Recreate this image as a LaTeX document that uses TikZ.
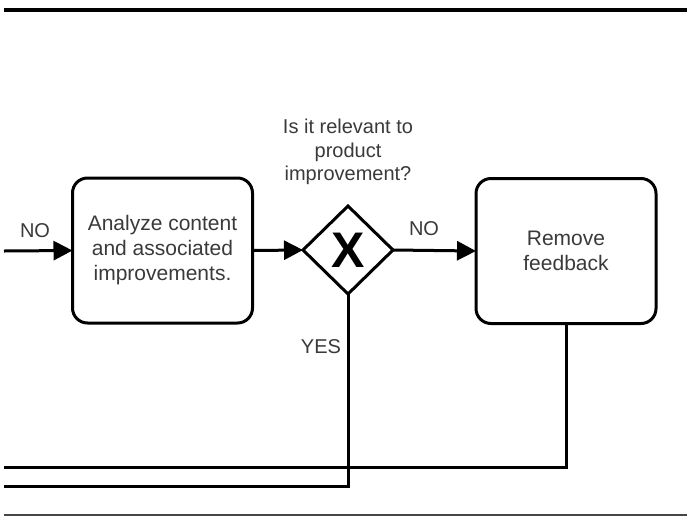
\documentclass[tikz,border=0pt]{standalone}
\usepackage{fontspec}
\setmainfont{Liberation Sans}
\usetikzlibrary{arrows.meta,shapes.geometric}
\definecolor{txt}{RGB}{58,58,58}
\definecolor{rule}{RGB}{70,70,70}
\begin{document}
\begin{tikzpicture}[x=1pt,y=-1pt,
  flow/.style={line width=3pt,black},
  arr/.style={flow,-{Triangle[length=19pt,width=19pt]}},
  task/.style={draw,line width=3pt,rounded corners=15pt,minimum width=180pt,minimum height=145pt,
    inner sep=0pt,outer sep=0pt,align=center,text=txt,font=\fontsize{21}{25}\selectfont},
  gateway/.style={draw,diamond,line width=3pt,minimum width=90pt,minimum height=88pt,inner sep=0pt,
    outer sep=0pt,font=\fontsize{50}{50}\selectfont\bfseries},
  lbl/.style={text=txt,inner sep=0pt,align=center,font=\fontsize{20}{23.5}\selectfont}]
  \useasboundingbox (0,0) rectangle (687,517);
  \fill[white] (0,0) rectangle (687,517);

  % lane borders
  \coordinate (t1) at (4,10);   \coordinate (t2) at (687,10);
  \coordinate (b1) at (4,515);  \coordinate (b2) at (687,515);
  \draw[line width=4pt,black] (t1) -- (t2);
  \draw[line width=2pt,rule] (b1) -- (b2);

  % nodes
  \node[task] (analyze) at (162.5,250.5) {Analyze content\\and associated\\improvements.};
  \node[gateway] (gw) at (348,250) {X};
  \node[task] (remove) at (566,251) {Remove\\feedback};
  \node[lbl] (question) at (348,152) {Is it relevant to\\product\\improvement?};

  % free ends
  \coordinate (inL) at (4,251);
  \coordinate (loopEnd) at (4,467);
  \coordinate (yesEnd) at (4,486);

  % connectors
  \draw[arr] (inL) -- (analyze.west);
  \draw[arr] (analyze.east) -- (gw.west);
  \draw[arr] (gw.east) -- (remove.west);
  \draw[flow] (remove.south) |- (loopEnd);
  \draw[flow] (gw.south) |- (yesEnd);

  % connector labels
  \node[lbl] (noIn) at (35,231) {NO};
  \node[lbl] (noOut) at (424,229) {NO};
  \node[lbl] (yes) at (321,347) {YES};
\end{tikzpicture}
\end{document}
